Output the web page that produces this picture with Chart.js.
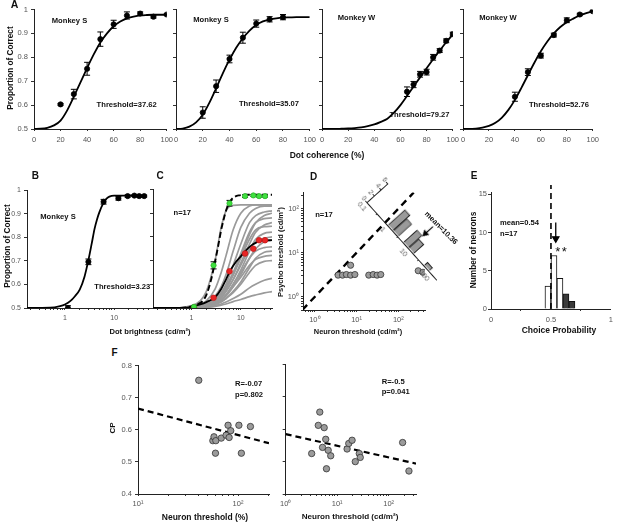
<!DOCTYPE html>
<html><head><meta charset="utf-8">
<script src="https://cdn.jsdelivr.net/npm/chart.js@4.4.0/dist/chart.umd.min.js"></script>
<style>
html,body{margin:0;padding:0;background:#fff;}
#fig{position:relative;width:617px;height:523px;overflow:hidden;background:#fff;font-family:'Liberation Sans',Arial,Helvetica,sans-serif;}
#fig canvas{position:absolute;}
.t{position:absolute;white-space:nowrap;line-height:1;color:#111;}
</style></head><body><div id="fig"></div>
<script>
// ---------------- DATA ----------------
// Panel A: psychometric curves vs dot coherence (%)
const a1Coh = [20,30,40,50,60,70,80,90,100];
const a1Pc  = [0.603,0.646,0.752,0.876,0.938,0.975,0.983,0.970,0.979];
const a1Err = [0.004,0.020,0.027,0.030,0.017,0.015,0.007,0.006,0.003];
const a2Coh = [20,30,40,50,60,70,80];
const a2Pc  = [0.569,0.679,0.793,0.882,0.941,0.959,0.968];
const a2Err = [0.024,0.026,0.016,0.023,0.015,0.011,0.011];
const a3Coh = [65,70,75,80,85,90,95,100];
const a3Pc  = [0.656,0.686,0.729,0.738,0.800,0.828,0.869,0.897];
const a3Err = [0.020,0.013,0.012,0.012,0.012,0.008,0.008,0.008];
const a4Coh = [40,50,60,70,80,90,100];
const a4Pc  = [0.635,0.738,0.807,0.893,0.955,0.979,0.993];
const a4Err = [0.019,0.014,0.010,0.008,0.010,0.005,0.003];
const fitCoh = [0,5,10,15,20,25,30,35,40,45,50,55,60,65,70,75,80,85,90,95,100];
const a1Fit = [0.500,0.501,0.505,0.515,0.535,0.578,0.635,0.695,0.755,0.812,0.862,0.900,0.930,0.950,0.963,0.970,0.975,0.977,0.978,0.978,0.978];
const a2Fit = [0.500,0.502,0.510,0.528,0.560,0.610,0.670,0.733,0.790,0.840,0.880,0.912,0.935,0.950,0.958,0.963,0.966,0.967,0.968,0.968,0.968];
const a3Fit = [0.500,0.500,0.500,0.501,0.502,0.504,0.507,0.512,0.519,0.530,0.543,0.568,0.600,0.638,0.677,0.716,0.754,0.792,0.828,0.863,0.895];
const a4Fit = [0.500,0.500,0.502,0.506,0.513,0.526,0.548,0.580,0.622,0.672,0.725,0.777,0.825,0.866,0.900,0.927,0.947,0.962,0.975,0.985,0.993];
const aXTicks = [0,20,40,60,80,100];
const pcTicks = [0.5,0.6,0.7,0.8,0.9,1];

// Panel B: psychometric vs dot brightness
const bLum = [1.15,3.0,6.1,12.2,18.8,25.7,32.2,40.7];
const bPc  = [0.500,0.696,0.951,0.966,0.975,0.977,0.975,0.975];
const bErr = [0.010,0.012,0.010,0.008,0.005,0.004,0.004,0.004];
const bFitLum = [0.17,0.5,0.8,1,1.3,1.6,2,2.5,3,3.5,4,4.5,5,6,7,8,10,20,45];
const bFit    = [0.500,0.501,0.508,0.515,0.530,0.550,0.578,0.633,0.703,0.773,0.836,0.877,0.906,0.944,0.964,0.973,0.977,0.977,0.977];
const lumTickLabels = {1:'1', 10:'10'};

// Panel C: psychometric (green) & neurometric (red, grey)
const cLum     = [1.12,2.8,5.9,12.2,18,23.5,31];
const cPsyPc   = [0.505,0.680,0.942,0.972,0.975,0.972,0.972];
const cPsyErr  = [0.005,0.015,0.012,0.006,0.004,0.004,0.004];
const cNeuPc   = [0.502,0.543,0.655,0.730,0.750,0.786,0.786];
const cPsyFitLum = [0.165,0.5,0.8,1,1.3,1.7,2,2.5,3,3.5,4,4.5,5,6,7,9,15,43];
const cPsyFit    = [0.500,0.500,0.503,0.507,0.515,0.530,0.555,0.620,0.695,0.765,0.830,0.875,0.910,0.948,0.965,0.975,0.978,0.978];
const cNeuFitLum = [0.165,0.5,0.8,1,1.5,2,3,4,5,6,8,10,13,16,20,25,30,43];
const cNeuFit    = [0.500,0.500,0.502,0.505,0.515,0.525,0.545,0.580,0.620,0.655,0.695,0.718,0.745,0.762,0.775,0.782,0.785,0.786];
const cGrayLum = [0.165,0.5,1,1.5,2,3,4,5,7,10,15,20,30,43];
const cNeuronCurves = [
 [0.5,0.5,0.51,0.53,0.57,0.70,0.84,0.91,0.933,0.935,0.935,0.935,0.935,0.935],
 [0.5,0.5,0.505,0.515,0.53,0.58,0.65,0.72,0.83,0.90,0.93,0.935,0.935,0.935],
 [0.5,0.5,0.503,0.51,0.52,0.55,0.59,0.64,0.74,0.84,0.90,0.92,0.93,0.93],
 [0.5,0.5,0.502,0.508,0.515,0.535,0.565,0.60,0.68,0.77,0.86,0.89,0.905,0.91],
 [0.5,0.5,0.502,0.506,0.512,0.53,0.55,0.58,0.64,0.72,0.81,0.86,0.89,0.90],
 [0.5,0.5,0.502,0.507,0.514,0.535,0.56,0.59,0.65,0.73,0.82,0.86,0.877,0.88],
 [0.5,0.5,0.501,0.505,0.51,0.525,0.545,0.57,0.62,0.69,0.77,0.82,0.85,0.86],
 [0.5,0.5,0.502,0.506,0.512,0.53,0.555,0.585,0.64,0.71,0.79,0.83,0.843,0.845],
 [0.5,0.5,0.501,0.504,0.508,0.52,0.535,0.555,0.60,0.66,0.74,0.79,0.815,0.82],
 [0.5,0.5,0.501,0.505,0.51,0.525,0.545,0.57,0.62,0.68,0.75,0.78,0.795,0.80],
 [0.5,0.5,0.501,0.503,0.507,0.518,0.532,0.55,0.59,0.64,0.71,0.75,0.78,0.786],
 [0.5,0.5,0.501,0.504,0.508,0.52,0.535,0.555,0.60,0.65,0.71,0.74,0.755,0.758],
 [0.5,0.5,0.501,0.503,0.506,0.515,0.527,0.54,0.57,0.61,0.67,0.71,0.735,0.74],
 [0.5,0.5,0.501,0.504,0.508,0.52,0.535,0.555,0.59,0.63,0.68,0.705,0.718,0.722],
 [0.5,0.5,0.501,0.503,0.506,0.515,0.525,0.54,0.565,0.60,0.65,0.68,0.697,0.70],
 [0.5,0.5,0.5,0.502,0.504,0.51,0.517,0.525,0.54,0.558,0.585,0.60,0.617,0.625],
 [0.5,0.5,0.5,0.501,0.503,0.507,0.512,0.517,0.527,0.536,0.548,0.555,0.564,0.569]
];

// Panel D: neuron vs psycho thresholds (cd/m2)
const dNeuronThr = [3.6,4.6,5.7,7.2,9.1,7.2,19.6,25,31,38,300,390];
const dPsychoThr = [3.1,3.1,3.2,3.1,3.2,5.2,3.1,3.2,3.1,3.2,3.9,3.6];
const dUnity = [0.5,234];
const dRatioBins   = [1.33,2.37,7.5,13.3,75];
const dRatioCounts = [5,4,4,3,1];
const dMeanRatio = 10.36;
const logSupLabels = {1:'10\u2070', 10:'10\u00B9', 100:'10\u00B2'};
const ratioLabels = {0.1:'0.1', 1:'1', 10:'10', 100:'100'};

// Panel E: choice probability histogram
const cpBins   = [0.475,0.525,0.575,0.625,0.675];
const cpCounts = [3,7,4,2,1];
const cpSignificant = [false,false,false,true,true];
const cpMean = 0.54;

// Panel F: CP vs neuron threshold
const fCohThr = [40.5,56,57.5,60,59.5,68,76,79.5,81.5,84.5,102,108,133];
const fCP1    = [0.754,0.566,0.578,0.566,0.527,0.574,0.583,0.614,0.576,0.597,0.614,0.527,0.610];
const fRegCoh = [10,204];
const fRegCP1 = [0.666,0.558];
const fLumThr = [4.6,4.3,5.6,6.0,5.2,6.7,7.5,6.2,3.2,15.6,16.8,19.5,26.9,28.1,22.5,187,248];
const fCP2    = [0.653,0.612,0.605,0.569,0.544,0.535,0.518,0.478,0.525,0.539,0.556,0.566,0.525,0.513,0.500,0.559,0.471];
const fRegLum = [1,340];
const fRegCP2 = [0.585,0.494];
const cpTicks = [0.4,0.5,0.6,0.7,0.8];

// ---------------- HELPERS ----------------
const FONT = "'Liberation Sans', Arial, Helvetica, sans-serif";
Chart.defaults.font.family = FONT;
const fig = document.getElementById('fig');

function addText(str, x, y, o = {}) {
  const d = document.createElement('div');
  d.className = 't';
  d.textContent = str;
  d.style.left = x + 'px'; d.style.top = y + 'px';
  d.style.fontSize = (o.size || 7.6) + 'px';
  d.style.fontWeight = o.bold === false ? 'normal' : 'bold';
  if (o.ls) d.style.letterSpacing = o.ls + 'px';
  const tr = o.anchor === 'l' ? 'translate(0,-50%)' : 'translate(-50%,-50%)';
  d.style.transform = tr + (o.rot ? ' rotate(' + o.rot + 'deg)' : '');
  fig.appendChild(d);
}
function logTicks(min, max) {
  const out = [];
  for (let e = -2; e <= 3; e++) for (let k = 1; k <= 9; k++) {
    const v = +(k * Math.pow(10, e)).toPrecision(6);
    if (v >= min - 1e-9 && v <= max + 1e-9) out.push(v);
  }
  return out;
}
function axis(o) {
  return {
    type: o.type || 'linear', position: o.pos, min: o.min, max: o.max,
    bounds: 'data', offset: false,
    grid: {display: true, drawOnChartArea: false, drawTicks: true, tickLength: o.tl ?? 3, color: '#333', lineWidth: 1},
    border: {display: true, color: '#222', width: 1},
    ticks: {autoSkip: false, maxRotation: 0, minRotation: 0, padding: o.pad ?? 2, color: '#555',
      font: {family: FONT, size: o.fs || 7.5},
      callback: (v) => o.labels ? (o.labels[v] ?? '') : ''},
    afterBuildTicks: s => { s.ticks = o.ticks.map(v => ({value: v})); },
    afterFit: s => { if (o.pos === 'left') s.width = o.size; else s.height = o.size; }
  };
}
function labelMap(arr) { const m = {}; arr.forEach(v => m[v] = String(v)); return m; }
const pts = (xs, ys) => xs.map((x, i) => ({x, y: ys[i]}));
function markers(xs, ys, o = {}) {
  return {data: pts(xs, ys), showLine: false, pointStyle: 'circle', pointRadius: o.r || 2.6,
    pointBackgroundColor: o.fill || '#000', pointBorderColor: o.stroke || '#000', pointBorderWidth: o.bw ?? 0.8};
}
function errBars(xs, ys, es, o = {}) {
  const d = [];
  xs.forEach((x, i) => { d.push({x, y: ys[i] - es[i]}, {x, y: ys[i] + es[i]}, {x, y: null}); });
  return {data: d, showLine: true, spanGaps: false, borderColor: '#000', borderWidth: 1,
    pointStyle: 'line', pointRadius: o.cap || 3, pointBorderColor: '#000', pointBorderWidth: 1};
}
function curve(xs, ys, o = {}) {
  const ds = {data: pts(xs, ys), showLine: true, pointRadius: 0, borderColor: o.color || '#000',
    borderWidth: o.w || 1.8, borderDash: o.dash || [], cubicInterpolationMode: 'monotone'};
  if (o.noClip) ds.clip = false;
  if (o.straight) { delete ds.cubicInterpolationMode; ds.tension = 0; }
  return ds;
}
function makeChart(p) {
  const cv = document.createElement('canvas');
  const W = p.r - p.l + p.yW + p.padR, H = p.b - p.t + p.padT + p.xH;
  cv.width = W; cv.height = H;
  cv.style.left = (p.l - p.yW) + 'px'; cv.style.top = (p.t - p.padT) + 'px';
  cv.style.width = W + 'px'; cv.style.height = H + 'px';
  if (p.rot) {
    cv.style.transformOrigin = p.yW + 'px ' + (p.padT + p.b - p.t) + 'px';
    cv.style.transform = 'rotate(' + p.rot + 'deg)';
  }
  fig.appendChild(cv);
  return new Chart(cv, {
    type: p.type || 'scatter',
    data: {datasets: p.datasets},
    options: {
      responsive: false, animation: false, events: [],
      layout: {padding: {left: 0, top: p.padT, right: p.padR, bottom: 0}},
      plugins: {legend: {display: false}, tooltip: {enabled: false}},
      scales: {x: p.x, y: p.y}
    }
  });
}

// ---------------- PANEL A ----------------
const aPanels = [
  {l: 34,  r: 167, coh: a1Coh, pc: a1Pc, err: a1Err, fit: a1Fit, ylab: true},
  {l: 176, r: 310, coh: a2Coh, pc: a2Pc, err: a2Err, fit: a2Fit},
  {l: 322, r: 453, coh: a3Coh, pc: a3Pc, err: a3Err, fit: a3Fit},
  {l: 463, r: 593, coh: a4Coh, pc: a4Pc, err: a4Err, fit: a4Fit}
];
aPanels.forEach(p => {
  const yW = p.ylab ? 34 : 8;
  makeChart({l: p.l, r: p.r, t: 8, b: 129, yW, padT: 6, padR: 10, xH: 18,
    datasets: [markers(p.coh, p.pc), errBars(p.coh, p.pc, p.err), curve(fitCoh, p.fit)],
    x: axis({pos: 'bottom', min: 0, max: 100, ticks: aXTicks, labels: labelMap(aXTicks), size: 18, tl: 2, pad: 4}),
    y: axis({pos: 'left', min: 0.5, max: 1, ticks: pcTicks, labels: p.ylab ? labelMap(pcTicks) : null, size: yW, tl: 3, pad: 3})
  });
});

// ---------------- PANEL B ----------------
makeChart({l: 27, r: 150, t: 189, b: 308, yW: 27, padT: 6, padR: 4, xH: 18,
  datasets: [markers(bLum, bPc), errBars(bLum, bPc, bErr), curve(bFitLum, bFit)],
  x: axis({type: 'logarithmic', pos: 'bottom', min: 0.17, max: 51, ticks: logTicks(0.17, 51), labels: lumTickLabels, size: 18, tl: 2, pad: 4, fs: 7}),
  y: axis({pos: 'left', min: 0.5, max: 1, ticks: pcTicks, labels: labelMap(pcTicks), size: 27, tl: 3, pad: 3, fs: 7})
});

// ---------------- PANEL C ----------------
const cDatasets = [
  markers(cLum, cPsyPc, {fill: '#3fe03f', stroke: '#2bb52b', r: 2.6}),
  errBars(cLum, cPsyPc, cPsyErr),
  markers(cLum, cNeuPc, {fill: '#e82424', stroke: '#c41a1a', r: 2.8}),
  curve(cPsyFitLum, cPsyFit, {dash: [6, 3], w: 1.9}),
  curve(cNeuFitLum, cNeuFit, {w: 1.8})
];
cNeuronCurves.forEach(c => cDatasets.push(curve(cGrayLum, c, {color: '#9a9a9a', w: 1.7})));
makeChart({l: 153, r: 272, t: 189, b: 308, yW: 6, padT: 6, padR: 6, xH: 18,
  datasets: cDatasets,
  x: axis({type: 'logarithmic', pos: 'bottom', min: 0.165, max: 43, ticks: logTicks(0.165, 43), labels: lumTickLabels, size: 18, tl: 2, pad: 4, fs: 7}),
  y: axis({pos: 'left', min: 0.5, max: 1, ticks: pcTicks, size: 6, tl: 3})
});

// ---------------- PANEL D ----------------
makeChart({l: 303, r: 425, t: 192, b: 310, yW: 22, padT: 6, padR: 8, xH: 18,
  datasets: [
    markers(dNeuronThr, dPsychoThr, {fill: '#9b9b9b', stroke: '#333', r: 3.1, bw: 0.8}),
    curve(dUnity, dUnity, {dash: [7, 5], w: 2.4, straight: true})
  ],
  x: axis({type: 'logarithmic', pos: 'bottom', min: 0.52, max: 436, ticks: logTicks(0.52, 436), labels: logSupLabels, size: 18, tl: 2, pad: 3, fs: 7.5}),
  y: axis({type: 'logarithmic', pos: 'left', min: 0.5, max: 234, ticks: logTicks(0.5, 234), labels: logSupLabels, size: 22, tl: 2, pad: 2, fs: 7.5})
});
// rotated ratio histogram inset
makeChart({type: 'bar', l: 367, r: 472, t: 172, b: 202, yW: 10, padT: 3, padR: 5, xH: 11, rot: 48,
  datasets: [
    {type: 'line', data: [{x: dMeanRatio, y: 7.0}, {x: dMeanRatio, y: 4.8}], borderColor: '#000', borderWidth: 1.2,
     pointRadius: [0, 3], pointStyle: 'triangle', rotation: 180, pointBackgroundColor: '#000', pointBorderColor: '#000', clip: false},
    {type: 'bar', data: pts(dRatioBins, dRatioCounts), backgroundColor: '#9a9a9a', borderColor: '#222', borderWidth: 1,
     categoryPercentage: 1, barPercentage: 1, grouped: false}
  ],
  x: axis({type: 'logarithmic', pos: 'bottom', min: 0.1, max: 240, ticks: [0.1, 1, 10, 100], labels: ratioLabels, size: 11, tl: 2, pad: 1, fs: 7}),
  y: axis({pos: 'left', min: 0, max: 6, ticks: [0, 2, 4, 6], labels: labelMap([0, 2, 4, 6]), size: 10, tl: 2, pad: 1, fs: 6.5})
});

// ---------------- PANEL E ----------------
makeChart({type: 'bar', l: 491, r: 614, t: 192, b: 309, yW: 16, padT: 8, padR: 3, xH: 18,
  datasets: [
    {type: 'line', data: [{x: cpMean, y: 11.3}, {x: cpMean, y: 9.2}], borderColor: '#000', borderWidth: 1.3,
     pointRadius: [0, 3.6], pointStyle: 'triangle', rotation: 180, pointBackgroundColor: '#000', pointBorderColor: '#000'},
    {type: 'line', data: [{x: 0.5, y: 0}, {x: 0.5, y: 16.2}], borderColor: '#000', borderWidth: 1.6, borderDash: [6, 4],
     pointRadius: 0, clip: false},
    {type: 'bar', data: pts(cpBins, cpCounts), backgroundColor: cpSignificant.map(s => s ? '#3a3a3a' : '#ffffff'),
     borderColor: '#111', borderWidth: 1, categoryPercentage: 1, barPercentage: 1, grouped: false}
  ],
  x: axis({pos: 'bottom', min: 0, max: 1, ticks: [0, 0.5, 1], labels: labelMap([0, 0.5, 1]), size: 18, tl: 2, pad: 4}),
  y: axis({pos: 'left', min: 0, max: 15.3, ticks: [0, 5, 10, 15], labels: labelMap([0, 5, 10, 15]), size: 16, tl: 3, pad: 1})
});

// ---------------- PANEL F ----------------
makeChart({l: 138, r: 269, t: 364, b: 494, yW: 24, padT: 6, padR: 6, xH: 18,
  datasets: [
    markers(fCohThr, fCP1, {fill: '#9b9b9b', stroke: '#333', r: 3.2, bw: 0.8}),
    curve(fRegCoh, fRegCP1, {dash: [6, 4], w: 2.2, straight: true})
  ],
  x: axis({type: 'logarithmic', pos: 'bottom', min: 10, max: 204, ticks: logTicks(10, 204), labels: {10: '10\u00B9', 100: '10\u00B2'}, size: 18, tl: 2, pad: 3, fs: 7.5}),
  y: axis({pos: 'left', min: 0.4, max: 0.8, ticks: cpTicks, labels: labelMap(cpTicks), size: 24, tl: 3, pad: 3})
});
makeChart({l: 283, r: 416, t: 364, b: 494, yW: 6, padT: 6, padR: 8, xH: 18,
  datasets: [
    markers(fLumThr, fCP2, {fill: '#9b9b9b', stroke: '#333', r: 3.2, bw: 0.8}),
    curve(fRegLum, fRegCP2, {dash: [6, 4], w: 2.2, straight: true})
  ],
  x: axis({type: 'logarithmic', pos: 'bottom', min: 1, max: 340, ticks: logTicks(1, 340), labels: logSupLabels, size: 18, tl: 2, pad: 3, fs: 7.5}),
  y: axis({pos: 'left', min: 0.4, max: 0.8, ticks: cpTicks, size: 6, tl: 3})
});

// ---------------- TEXT ----------------
// panel letters
addText('A', 14.5, 3.5, {size: 10.5});
addText('B', 35.3, 176, {size: 10});
addText('C', 160, 176.3, {size: 10});
addText('D', 313.7, 176.7, {size: 10});
addText('E', 474, 176.3, {size: 10});
addText('F', 114.5, 352.7, {size: 10});
// axis titles
addText('Proportion of Correct', 11, 68, {size: 8.2, rot: -90});
addText('Dot coherence (%)', 327, 154.5, {size: 8.5});
addText('Proportion of Correct', 7.5, 246, {size: 8.2, rot: -90});
addText('Dot brightness (cd/m\u00B2)', 150, 331.5, {size: 7.6});
addText('Psycho threshold (cd/m\u00B2)', 281, 251.7, {size: 7.5, rot: -90});
addText('Neuron threshold (cd/m\u00B2)', 358, 331.5, {size: 7.4});
addText('Number of neurons', 472.7, 250, {size: 8.3, rot: -90});
addText('Choice Probability', 559, 329.5, {size: 8.5});
addText('CP', 113, 428, {size: 8, rot: -90});
addText('Neuron threshold (%)', 205, 516.7, {size: 8.5});
addText('Neuron threshold (cd/m\u00B2)', 350, 516.5, {size: 8.1});
// annotations
addText('Monkey S', 69.5, 21, {});
addText('Threshold=37.62', 126.7, 105, {});
addText('Monkey S', 211, 19.5, {});
addText('Threshold=35.07', 269, 104, {});
addText('Monkey W', 356.5, 18, {});
addText('Threshold=79.27', 419.5, 115, {});
addText('Monkey W', 498, 18, {});
addText('Threshold=52.76', 559, 105, {});
addText('Monkey S', 58, 216.7, {});
addText('Threshold=3.23', 122.3, 286.7, {});
addText('n=17', 182.3, 213, {});
addText('n=17', 324, 215, {});
addText('mean=10.36', 440.8, 227.5, {rot: 45});
addText('mean=0.54', 500, 223.3, {anchor: 'l'});
addText('n=17', 500, 234, {anchor: 'l'});
addText('**', 561.7, 251, {size: 13, bold: false, ls: 1.5});
addText('R=-0.07', 235, 384.3, {anchor: 'l'});
addText('p=0.802', 235, 395, {anchor: 'l'});
addText('R=-0.5', 381.7, 381.7, {anchor: 'l'});
addText('p=0.041', 381.7, 392.3, {anchor: 'l'});
</script></body></html>
